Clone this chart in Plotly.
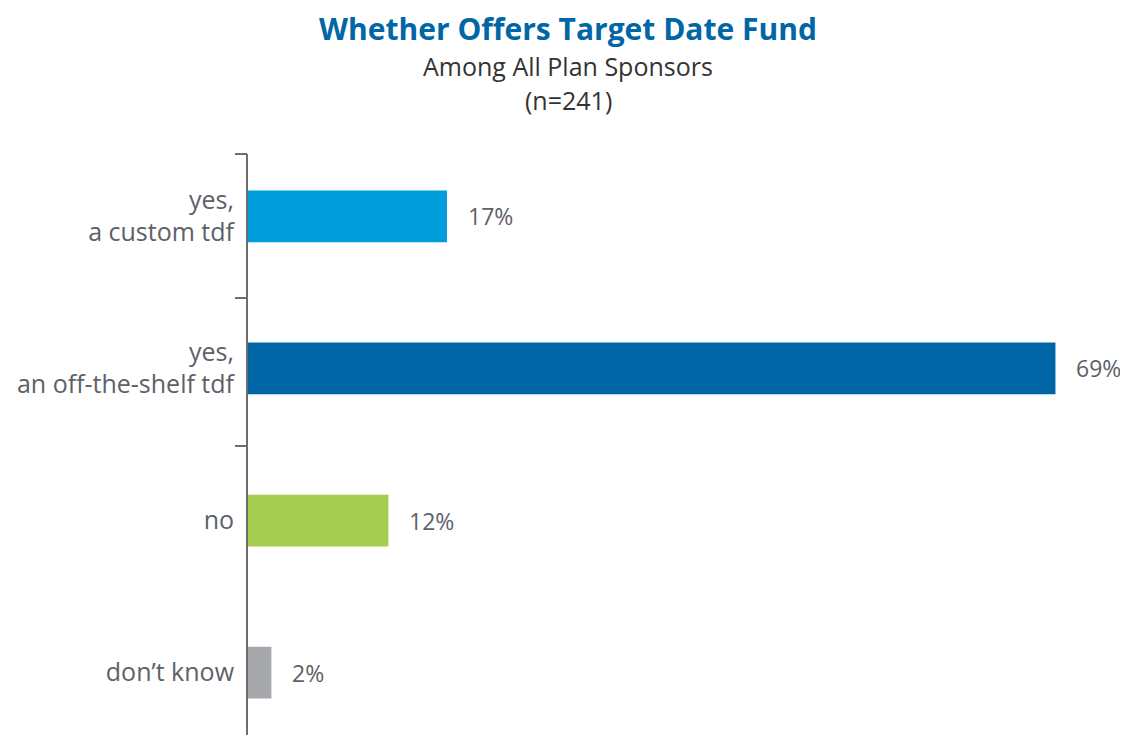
import plotly.graph_objects as go

# =====================
# Data
# =====================
categories = ["yes,<br>a custom tdf", "yes,<br>an off-the-shelf tdf", "no", "don\u2019t know"]
values = [17, 69, 12, 2]
value_labels = ["17%", "69%", "12%", "2%"]
bar_colors = ["#009cdc", "#0066a6", "#a5cd4f", "#a6a8ab"]

title_text = "Whether Offers Target Date Fund"
subtitle_lines = ["Among All Plan Sponsors", "(n=241)"]

positions = list(range(len(categories)))
gray = "#5d6168"
font_family = "Open Sans"

fig = go.Figure()
fig.add_trace(go.Bar(
    x=values,
    y=positions,
    orientation="h",
    width=0.34,
    marker=dict(color=bar_colors, line=dict(width=0)),
    hoverinfo="skip",
))
# invisible trace so the tick axis is drawn
fig.add_trace(go.Scatter(x=[0], y=[0], yaxis="y2", mode="markers",
                         marker=dict(opacity=0), hoverinfo="skip", showlegend=False))

# value labels beside each bar
for pos, val, lab in zip(positions, values, value_labels):
    fig.add_annotation(x=val, y=pos, text=lab, showarrow=False, xanchor="left",
                       xshift=19, font=dict(size=23, color=gray, family=font_family))

# subtitle lines
for i, line in enumerate(subtitle_lines):
    fig.add_annotation(xref="paper", yref="paper", x=0.364, y=1.151 - i * 0.058,
                       text=line, showarrow=False, xanchor="center", yanchor="middle",
                       font=dict(size=25, color="#333333", family=font_family))

yrange = [3.41, -0.41]
fig.update_layout(
    width=1120, height=727,
    paper_bgcolor="white", plot_bgcolor="white",
    margin=dict(l=240, r=0, t=146, b=0),
    showlegend=False,
    font=dict(family=font_family, color=gray),
    title=dict(text="<b>" + title_text + "</b>", x=0.5, xanchor="center",
               y=0.97, yanchor="middle",
               font=dict(size=30, color="#0066a6", family=font_family)),
    xaxis=dict(range=[0, 75.2], visible=False, fixedrange=True),
    yaxis=dict(range=yrange, tickvals=positions, ticktext=categories,
               showline=True, linecolor="#6d6e71", linewidth=2,
               ticks="", ticklabelstandoff=7, showgrid=False, zeroline=False,
               tickfont=dict(size=25, color=gray, family=font_family)),
    yaxis2=dict(range=yrange, overlaying="y", side="left",
                tickvals=[-0.41, 0.54, 1.51], ticks="outside", ticklen=12,
                tickwidth=2, tickcolor="#6d6e71", showticklabels=False,
                showgrid=False, zeroline=False, showline=False),
)

fig.write_html("out.html")
